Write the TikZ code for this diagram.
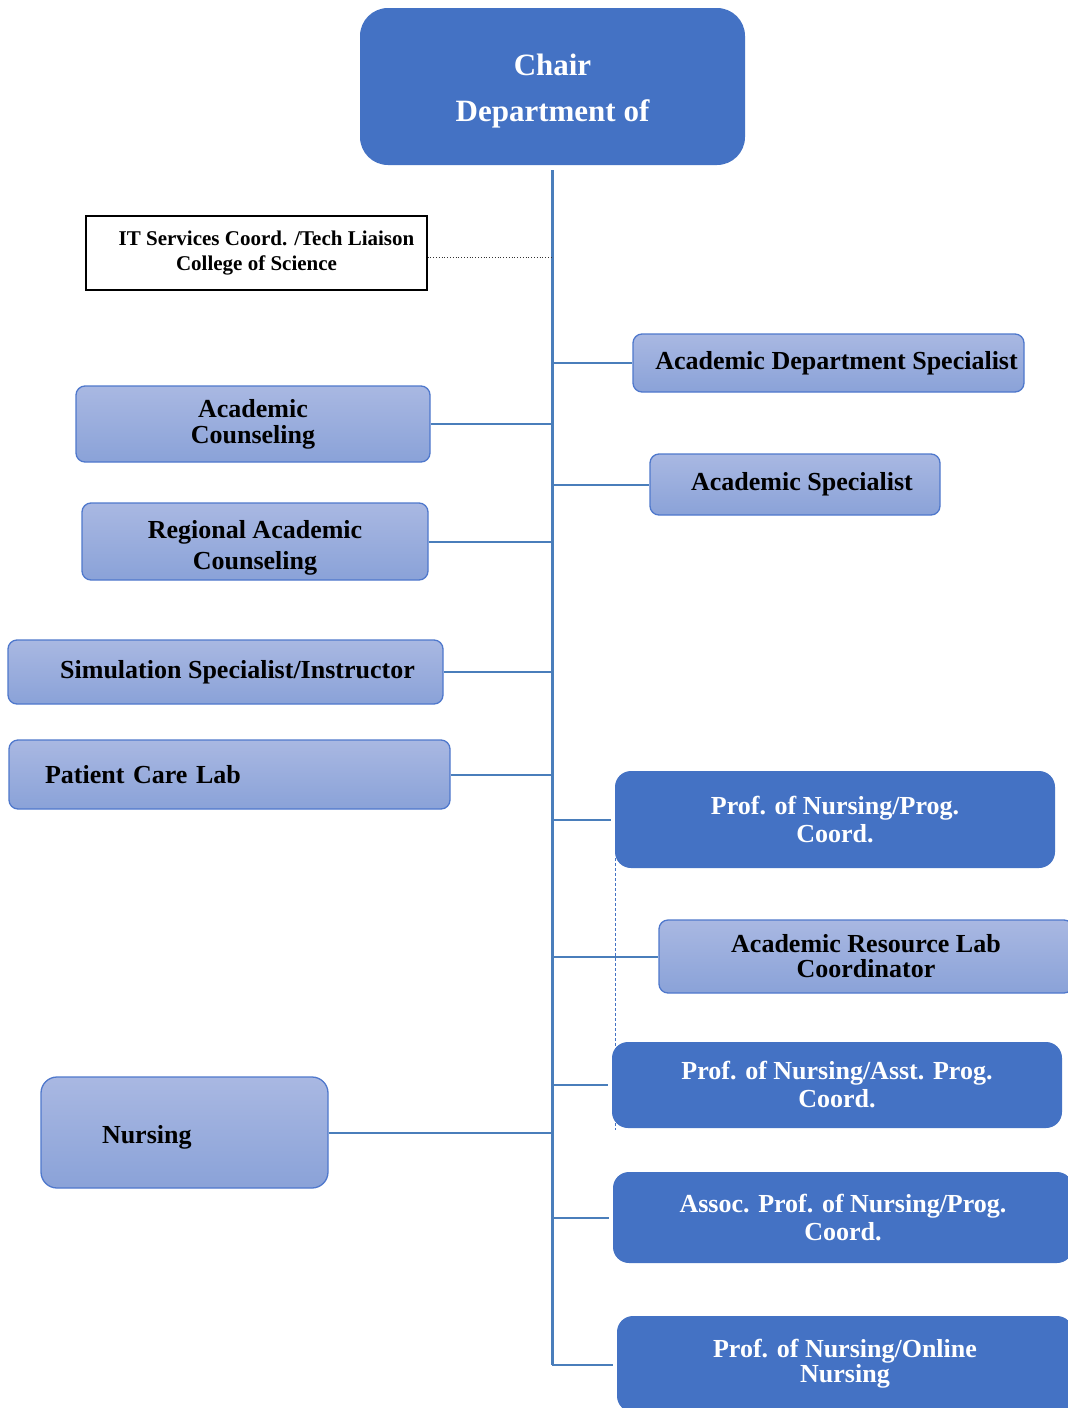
\documentclass[tikz,border=0pt]{standalone}
\usepackage{fontspec}
\setmainfont{Liberation Serif}
\definecolor{dblue}{HTML}{4472C4}
\definecolor{lineblue}{HTML}{4A7EBB}
\definecolor{ltop}{HTML}{A9B8E2}
\definecolor{lbot}{HTML}{8AA2D8}
\definecolor{lborder}{HTML}{4F78CC}
\begin{document}
\begin{tikzpicture}[x=1pt,y=-1pt,
  darkbox/.style={rectangle, rounded corners=16pt, fill=dblue, text=white,
    font=\bfseries\fontsize{26}{28}\selectfont, align=center, inner sep=0pt},
  lightbox/.style={rectangle, rounded corners=9pt, draw=lborder, line width=1.3pt,
    top color=ltop, bottom color=lbot, text=black,
    font=\bfseries\fontsize{26}{26}\selectfont, align=center, inner sep=0pt},
  conn/.style={draw=lineblue, line width=2pt},
  trunkline/.style={draw=lineblue, line width=3pt},
  dconn/.style={conn, shorten >=4pt}]
\useasboundingbox[fill=white] (0,0) rectangle (1068,1408);

% Chair
\node[darkbox, rounded corners=28pt, minimum width=385pt, minimum height=157pt,
  font=\bfseries\fontsize{31}{46}\selectfont] (chair) at (552.5,86.5) {\rule{0pt}{30pt}Chair\\Department of};

% IT box
\node[rectangle, draw=black, line width=1.2pt, fill=white, minimum width=341pt, minimum height=74pt,
  inner sep=0pt, align=center, font=\bfseries\fontsize{21}{25}\selectfont] (it) at (256.5,253)
  {\hspace*{20pt}IT Services Coord. /Tech Liaison\\College of Science};

% light boxes
\node[lightbox, minimum width=391pt, minimum height=58pt] (ads) at (828.5,363) {\hspace*{16pt}Academic Department Specialist};
\node[lightbox, minimum width=354pt, minimum height=76pt] (ac) at (253,424) {Academic\\Counseling};
\node[lightbox, minimum width=290pt, minimum height=61pt] (as) at (795,484.5) {\hspace*{14pt}Academic Specialist};
\node[lightbox, minimum width=346pt, minimum height=77pt, font=\bfseries\fontsize{26}{31}\selectfont] (rac) at (255,541.5) {\rule{0pt}{31pt}Regional Academic\\Counseling};
\node[lightbox, minimum width=435pt, minimum height=64pt] (sim) at (225.5,672) {\hspace*{24pt}Simulation Specialist/Instructor};
\node[lightbox, minimum height=69pt, text width=369pt, inner xsep=36pt, align=left] (pcl) at (229.5,774.5) {Patient Care Lab};
\node[lightbox, minimum width=414pt, minimum height=73pt, font=\bfseries\fontsize{26}{25}\selectfont] (arl) at (866,956.5) {Academic Resource Lab\\Coordinator};
\node[lightbox, rounded corners=16pt, minimum height=111pt, text width=165pt, inner xsep=61pt, align=left] (nur) at (184.5,1132.5) {\rule{0pt}{27pt}Nursing};

% dark boxes
\node[darkbox, minimum width=440pt, minimum height=97pt] (pno1) at (835,819.5) {Prof. of Nursing/Prog.\\Coord.};
\node[darkbox, minimum width=450pt, minimum height=86pt] (pno2) at (837,1085) {Prof. of Nursing/Asst. Prog.\\Coord.};
\node[darkbox, minimum width=460pt, minimum height=91pt] (assoc) at (843,1217.5) {Assoc. Prof. of Nursing/Prog.\\Coord.};
\node[darkbox, minimum width=456pt, minimum height=96pt, font=\bfseries\fontsize{26}{25}\selectfont] (online) at (845,1364) {Prof. of Nursing/Online\\Nursing};

% trunk
\coordinate (top) at (552,170);
\coordinate (bot) at (552,1365);
\draw[trunkline] (top) -- (bot);

% dotted link to IT
\draw[black!80, line width=0.8pt, dotted] (it.east |- 0,257) -- (top |- 0,257);

% dashed vertical link
\draw[dblue, line width=1.3pt, dash pattern=on 3pt off 2pt] (615.5,858) -- (615.5,1130);

% connectors
\draw[conn] (top |- ads.west) -- (ads.west);
\draw[conn] (ac.east) -- (top |- ac.east);
\draw[conn] (top |- as.west) -- (as.west);
\draw[conn] (rac.east) -- (top |- rac.east);
\draw[conn] (sim.east) -- (top |- sim.east);
\draw[conn] (pcl.east) -- (top |- pcl.east);
\draw[dconn] (top |- pno1.west) -- (pno1.west);
\draw[conn] (top |- arl.west) -- (arl.west);
\draw[dconn] (top |- pno2.west) -- (pno2.west);
\draw[conn] (nur.east) -- (top |- nur.east);
\draw[dconn] (top |- assoc.west) -- (assoc.west);
\draw[dconn] (bot) -- (bot -| online.west);
\end{tikzpicture}
\end{document}
